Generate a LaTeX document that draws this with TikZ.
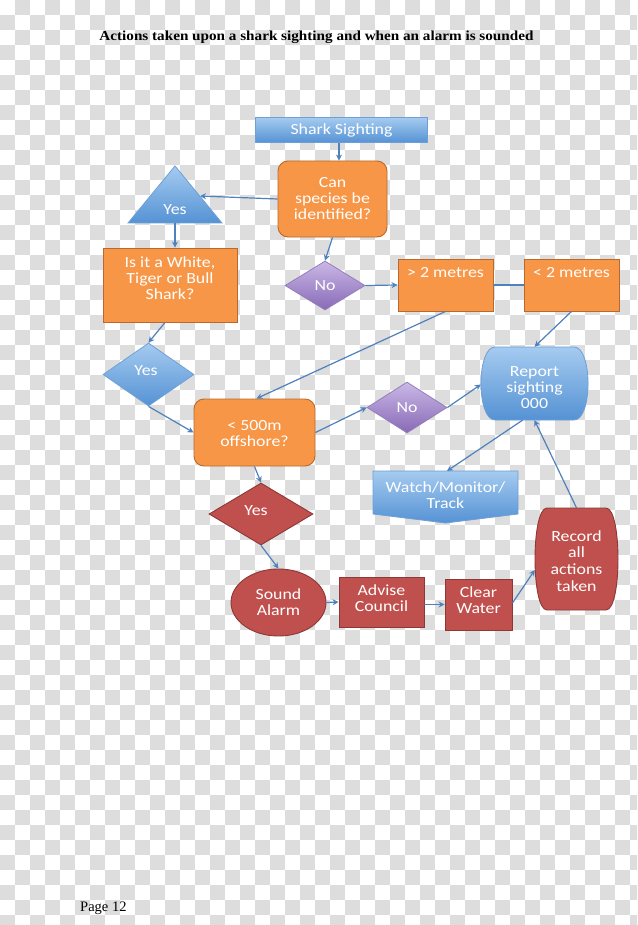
\documentclass[tikz,border=0pt]{standalone}
\usepackage{fontspec}
\setmainfont{Liberation Serif}
\newfontfamily\boxfont[FakeStretch=1.15]{Carlito}
\newfontfamily\titlefont[FakeStretch=1.1]{Liberation Serif}
\usetikzlibrary{shapes.geometric,arrows.meta}
\definecolor{chk}{RGB}{221,221,221}
\definecolor{orangeF}{RGB}{247,150,70}
\definecolor{orangeD}{RGB}{185,105,45}
\definecolor{blueT}{RGB}{165,203,240}
\definecolor{blueB}{RGB}{85,146,212}
\definecolor{blueD}{RGB}{110,160,215}
\definecolor{purT}{RGB}{202,184,230}
\definecolor{purB}{RGB}{136,106,182}
\definecolor{purD}{RGB}{150,125,190}
\definecolor{redF}{RGB}{192,80,77}
\definecolor{redD}{RGB}{140,56,54}
\definecolor{arr}{RGB}{79,129,189}
\tikzset{
  arrowst/.style={draw=arr, line width=1.2pt, -{Stealth[length=6pt,width=6pt]}},
  plainline/.style={draw=arr, line width=1.2pt},
  txt/.style={font=\boxfont\fontsize{15.5}{16}\selectfont, text=white, align=center, inner sep=0pt},
  obox/.style={txt, draw=orangeD, fill=orangeF, line width=0.9pt},
  rbox/.style={txt, draw=redD, fill=redF, line width=0.9pt},
  bshade/.style={top color=blueT, bottom color=blueB, draw=blueD, line width=0.8pt},
  pshade/.style={top color=purT, bottom color=purB, draw=purD, line width=0.8pt},
  dia/.style={txt, diamond, inner sep=0pt},
}
\begin{document}
\begin{tikzpicture}[x=1pt,y=-1pt]
\useasboundingbox (0,0) rectangle (637,925);
\clip (0,0) rectangle (637,925);
\fill[white] (0,0) rectangle (637,925);
\foreach \i in {0,...,42}{
  \foreach \j in {0,...,61}{
    \pgfmathtruncatemacro{\parity}{mod(\i+\j,2)}
    \ifnum\parity=1 \fill[chk] (15*\i,15*\j) rectangle ++(15,15);\fi
  }
}
% title and page number
\node[font=\titlefont\bfseries\fontsize{13.8}{16}\selectfont, anchor=base, inner sep=0pt] (title) at (316.5,40.7) {Actions taken upon a shark sighting and when an alarm is sounded};
\node[font=\fontsize{14.5}{16}\selectfont, anchor=base west, inner sep=0pt] (page) at (80,911.7) {Page 12};

% nodes
\node[txt, bshade, minimum width=172pt, minimum height=25pt] (sight) at (341.5,130) {Shark Sighting};
\node[obox, rounded corners=10pt, minimum width=109pt, minimum height=76pt] (canid) at (332.5,199) {Can\\species be\\identified?};
\path[bshade] (175,166) -- (222,223) -- (128,223) -- cycle;
\node[txt] (tri) at (175,210) {Yes};
\coordinate (trib) at (175,223);
\coordinate (trir) at (200,196);
\node[obox, minimum width=134pt, minimum height=74pt] (white) at (170,285) {};
\node[txt] (whitet) at (170,278) {Is it a White,\\Tiger or Bull\\Shark?};
\node[dia, pshade, minimum width=80pt, minimum height=49pt] (no1) at (325,285.5) {No};
\node[obox, minimum width=95pt, minimum height=52pt] (gt2) at (445.5,285) {};
\node[txt] (gt2t) at (445.5,273) {> 2 metres};
\node[obox, minimum width=95pt, minimum height=52pt] (lt2) at (571.5,285) {};
\node[txt] (lt2t) at (571.5,273) {< 2 metres};
\path[bshade] (495,347) -- (574,347) .. controls (592.7,347) and (592.7,420) .. (574,420) -- (495,420) .. controls (476.3,420) and (476.3,347) .. (495,347) -- cycle;
\node[minimum width=107pt, minimum height=73pt, inner sep=0pt] (report) at (534.5,383.5) {};
\node[txt] (reportt) at (534.5,388) {Report\\sighting\\000};
\node[dia, bshade, minimum width=91pt, minimum height=63pt] (yes2) at (148.5,374.5) {};
\node[txt] (yes2t) at (146,371) {Yes};
\node[obox, rounded corners=10pt, minimum width=121pt, minimum height=67pt] (off) at (254.5,432.5) {};
\node[txt] (offt) at (254.5,434) {< 500m\\offshore?};
\node[dia, pshade, minimum width=80pt, minimum height=51pt] (no2) at (407,407.5) {No};
\path[bshade] (373,471) -- (518,471) -- (518,514) -- (445.5,523) -- (373,514) -- cycle;
\node[txt] (watch) at (445.5,495) {Watch/Monitor/\\Track};
\coordinate (watchn) at (447,471);
\node[dia, rbox, minimum width=104pt, minimum height=62pt] (yes3) at (261,514) {};
\node[txt] (yes3t) at (256,511) {Yes};
\node[rbox, ellipse, minimum width=95pt, minimum height=67pt] (alarm) at (278.5,602.5) {Sound\\Alarm};
\node[rbox, minimum width=85pt, minimum height=50pt] (advise) at (381.5,602) {};
\node[txt] (adviset) at (381.5,598) {Advise\\Council};
\node[rbox, minimum width=67pt, minimum height=51pt] (clear) at (478.5,604.5) {};
\node[txt] (cleart) at (478.5,600) {Clear\\Water};
\path[draw=redD, fill=redF, line width=0.9pt] (547,508) -- (606,508) .. controls (622,508) and (622,610) .. (606,610) -- (547,610) .. controls (531,610) and (531,508) .. (547,508) -- cycle;
\node[minimum width=83pt, minimum height=102pt, inner sep=0pt] (record) at (576.5,559) {};
\node[txt, font=\boxfont\fontsize{15.5}{16.7}\selectfont] (recordt) at (576.5,561) {Record\\all\\actions\\taken};

% connectors
\draw[arrowst] ([xshift=-2.5pt]sight.south) -- ([xshift=6.5pt]canid.north);
\draw[arrowst] (canid.west) -- (trir);
\draw[arrowst] (trib) -- ([xshift=5pt]white.north);
\draw[arrowst] (canid.south) -- (no1.north);
\draw[arrowst] (no1.east) -- (gt2.west);
\draw[plainline] (gt2.east) -- (lt2.west);
\draw[arrowst] (lt2.south) -- (report.north);
\draw[arrowst] (gt2.south) -- ([xshift=2pt]off.north);
\draw[arrowst] ([xshift=-5pt]white.south) -- (yes2.north);
\draw[arrowst] (yes2.south) -- (off.west);
\draw[arrowst] (off.east) -- (no2.west);
\draw[arrowst] (no2.east) -- ([yshift=-1pt]report.west);
\draw[arrowst] ([xshift=-12pt]report.south) -- (watchn);
\draw[arrowst] (record.north) -- (report.south);
\draw[arrowst] (off.south) -- (yes3.north);
\draw[arrowst] (yes3.south) -- (alarm.north);
\draw[arrowst] (alarm.east) -- (advise.west);
\draw[arrowst] ([yshift=-2.5pt]advise.east) -- (clear.west);
\draw[arrowst] ([yshift=1.5pt]clear.east) -- ([yshift=-11pt]record.west);
\end{tikzpicture}
\end{document}
